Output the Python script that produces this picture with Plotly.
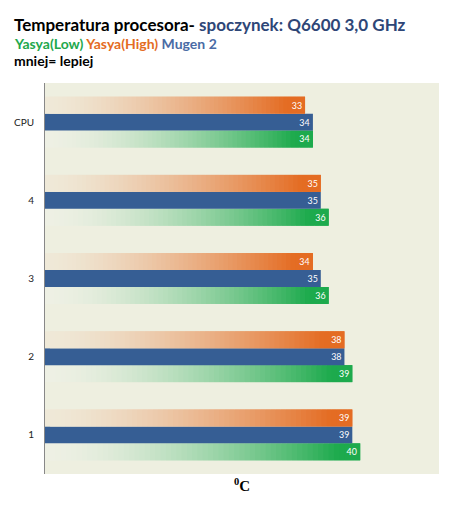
import plotly.graph_objects as go

categories = ["1", "2", "3", "4", "CPU"]
yasya_low = [40, 39, 36, 36, 34]
mugen2 = [39, 38, 35, 35, 34]
yasya_high = [39, 38, 34, 35, 33]

N = 60


def hexc(c):
    return "rgb(%d,%d,%d)" % c


def lerp(a, b, f):
    return tuple(round(a[i] + (b[i] - a[i]) * f) for i in range(3))


fig = go.Figure()


def gradient_series(vals, start, end, power, group, name):
    for i in range(N):
        t = (i + 0.5) / N
        f = min(1.0, (t / 0.93) ** power)
        col = hexc(lerp(start, end, f))
        w = 2.0 if i < N - 1 else 1.0
        fig.add_trace(go.Bar(
            y=categories, x=[v * w / N for v in vals], base=[v * i / N for v in vals],
            orientation="h", offsetgroup=group, marker=dict(color=col, line=dict(width=0)),
            showlegend=False, hoverinfo="skip"))
    fig.add_trace(go.Bar(
        y=categories, x=vals, orientation="h", offsetgroup=group, name=name,
        marker=dict(color="rgba(0,0,0,0)", line=dict(width=0)),
        text=[str(v) for v in vals], textposition="inside", insidetextanchor="end", textangle=0,
        textfont=dict(color="white", size=13, family="Lato"), showlegend=False))


gradient_series(yasya_low, (238, 240, 228), (29, 170, 77), 1.7, "g", "Yasya(Low)")
fig.add_trace(go.Bar(
    y=categories, x=mugen2, orientation="h", offsetgroup="b", name="Mugen 2",
    marker=dict(color="rgb(54,94,148)", line=dict(width=0)),
    text=[str(v) for v in mugen2], textposition="inside", insidetextanchor="end", textangle=0,
    textfont=dict(color="white", size=13, family="Lato"), showlegend=False))
gradient_series(yasya_high, (239, 233, 216), (228, 108, 35), 1.5, "o", "Yasya(High)")

line1 = "<b>Temperatura procesora- <span style='color:#2E4677'>spoczynek: Q6600 3,0 GHz</span></b>"
line2 = ("<b><span style='color:#22A84C'>Yasya(Low)</span> <span style='color:#E46C23'>Yasya(High)</span> "
         "<span style='color:#4A6BA5'>Mugen 2</span></b>")
line3 = "<b>mniej= lepiej</b>"


def py(px):
    return (474 - px) / 391


ann = []
for txt, ypx, size in [(line1, 25, 17), (line2, 43, 14), (line3, 61, 14)]:
    ann.append(dict(text=txt, xref="paper", yref="paper", x=-33 / 394, y=py(ypx),
                    xanchor="left", yanchor="middle", align="left", showarrow=False,
                    font=dict(size=size, family="Lato", color="black")))

fig.update_layout(
    width=455, height=510,
    margin=dict(l=45, r=16, t=83, b=36),
    paper_bgcolor="white", plot_bgcolor="rgb(238,239,224)",
    barmode="group", bargap=0.35, bargroupgap=0,
    font=dict(family="Lato", color="#222"),
    xaxis=dict(range=[0, 50], showticklabels=False, showgrid=False, zeroline=False,
               showline=False, fixedrange=True,
               title=dict(text="<b><sup>0</sup>C</b>", font=dict(family="Liberation Serif", size=15, color="black"),
                          standoff=6)),
    yaxis=dict(categoryorder="array", categoryarray=categories, showgrid=False,
               showline=True, linecolor="#888", linewidth=1, ticks="outside", ticklen=8,
               tickcolor="rgba(0,0,0,0)", tickfont=dict(size=10, family="Lato", color="#222")),
    annotations=ann,
)

fig.write_html("out.html")
